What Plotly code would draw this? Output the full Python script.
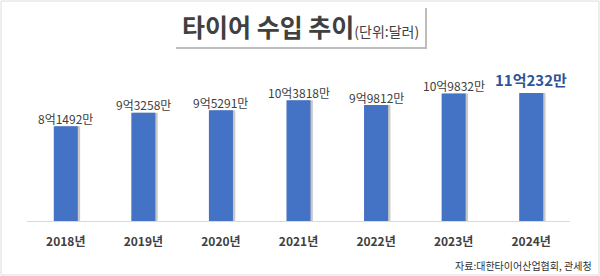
import plotly.graph_objects as go

years = ["2018년", "2019년", "2020년", "2021년", "2022년", "2023년", "2024년"]
values = [8.1492, 9.3258, 9.5291, 10.3818, 9.9812, 10.9832, 11.0232]  # 억 달러
labels = ["8억1492만", "9억3258만", "9억5291만", "10억3818만", "9억9812만", "10억9832만", "11억232만"]
title_main = "타이어 수입 추이"
title_unit = "(단위:달러)"
source = "자료:대한타이어산업협회, 관세청"

W, H = 600, 276
L, R, T, B = 27, 30, 60, 55
PW, PH = W - L - R, H - T - B
FONT = "Noto Sans CJK KR"

def px(x):
    return (x - L) / PW

def py(y):
    return (H - B - y) / PH

BW = 0.31
fig = go.Figure()
# soft shadow behind bars
fig.add_trace(go.Bar(x=years, y=values, width=BW, offset=-BW / 2 + 0.03,
                     marker=dict(color="#c8c8c8", line=dict(width=0)),
                     hoverinfo="skip", showlegend=False))
fig.add_trace(go.Bar(x=years, y=values, width=BW, offset=-BW / 2,
                     marker=dict(color="#4472C4", line=dict(width=0)),
                     showlegend=False))

for i, (yr, v, lab) in enumerate(zip(years, values, labels)):
    last = i == len(years) - 1
    fig.add_annotation(x=yr, y=v, xref="x", yref="y", text=lab, showarrow=False,
                       yanchor="middle", yshift=13 if last else 8,
                       font=dict(family=FONT, size=15 if last else 12,
                                 color="#2F5597" if last else "#404040",
                                 weight="bold" if last else "normal"))

shapes = [
    # outer frame
    dict(type="rect", xref="paper", yref="paper", x0=px(1), x1=px(599), y0=py(1), y1=py(275),
         line=dict(color="#dcdcdc", width=1), fillcolor="rgba(0,0,0,0)", layer="below"),
    # title box shadow
    dict(type="rect", xref="paper", yref="paper", x0=px(176), x1=px(427), y0=py(8), y1=py(49),
         line=dict(width=0), fillcolor="#bdbdbd", layer="below"),
    dict(type="rect", xref="paper", yref="paper", x0=px(173), x1=px(425), y0=py(5), y1=py(47),
         line=dict(width=0), fillcolor="#ffffff", layer="below"),
]

fig.add_annotation(xref="paper", yref="paper", x=px(300), y=py(26), showarrow=False,
                   xanchor="center", yanchor="middle",
                   text=f"<b>{title_main}</b><span style='font-size:14px'>{title_unit}</span>",
                   font=dict(family=FONT, size=25, color="#404040"))
fig.add_annotation(xref="paper", yref="paper", x=px(594), y=py(265), showarrow=False,
                   xanchor="right", yanchor="middle", text=source,
                   font=dict(family=FONT, size=10, color="#303030"))

fig.update_layout(
    width=W, height=H, margin=dict(l=L, r=R, t=T, b=B),
    paper_bgcolor="white", plot_bgcolor="white", barmode="overlay",
    shapes=shapes,
    xaxis=dict(showline=True, linecolor="#d9d9d9", linewidth=1, showgrid=False,
               ticks="", ticklabelstandoff=10,
               tickfont=dict(family=FONT, size=12, color="#404040", weight="bold")),
    yaxis=dict(range=[0, PH / 11.62], visible=False, showgrid=False, zeroline=False),
)

fig.write_html("out.html")
